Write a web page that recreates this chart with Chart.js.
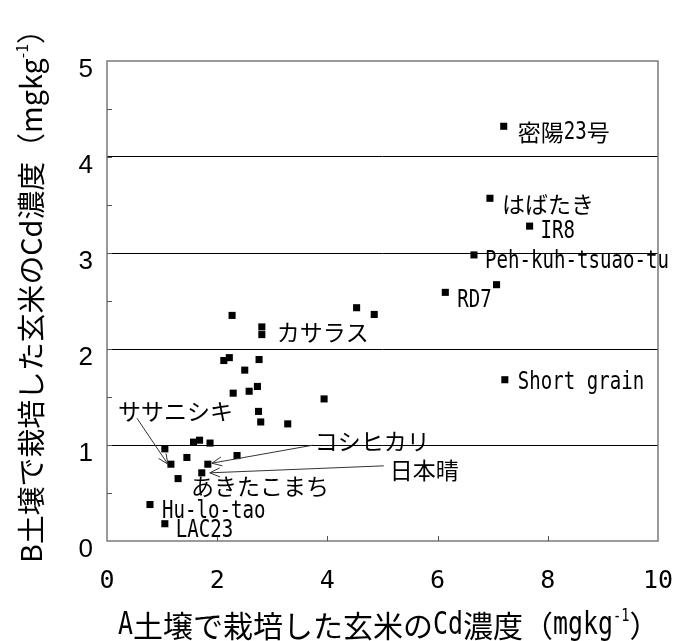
<!DOCTYPE html>
<html>
<head>
<meta charset="utf-8">
<script src="https://cdn.jsdelivr.net/npm/chart.js@4/dist/chart.umd.min.js"></script>
<style>
  html, body { margin: 0; padding: 0; background: #fff; }
  canvas { display: block; }
</style>
</head>
<body>
<canvas id="chart" width="679" height="641"></canvas>
<script>
// Cd concentration of brown rice (mg/kg): grown in soil A (x) vs soil B (y)
const varieties = [
  '密陽23号', 'はばたき', 'IR8', 'Peh-kuh-tsuao-tu', 'RD7', '', 'Short grain',
  '', '', '', '', 'カサラス', '', '', '', '', '', '', '', '', '', '', '',
  '', '', '', '', 'ササニシキ', '', 'コシヒカリ', '', '日本晴', 'あきたこまち',
  'Hu-lo-tao', 'LAC23'
];
const soilA = [
  7.20, 6.95, 7.67, 6.66, 6.14, 7.07, 7.22,
  4.53, 4.85, 2.27, 2.81, 2.81, 2.12, 2.22, 2.76, 2.50, 2.29, 2.58, 2.73, 3.94, 2.75, 2.79, 3.28,
  1.57, 1.68, 1.87, 1.05, 1.16, 1.45, 1.83, 2.36, 1.72, 1.29,
  0.78, 1.05
];
const soilB = [
  4.32, 3.57, 3.28, 2.98, 2.59, 2.67, 1.68,
  2.43, 2.36, 2.35, 2.23, 2.15, 1.88, 1.91, 1.89, 1.78, 1.54, 1.56, 1.61, 1.48, 1.35, 1.24, 1.22,
  1.03, 1.05, 1.02, 0.96, 0.80, 0.87, 0.80, 0.89, 0.71, 0.65,
  0.38, 0.18
];
const xTicks = [0, 2, 4, 6, 8, 10];
const yTicks = [0, 1, 2, 3, 4, 5];
const yMinorStep = 0.5;
const xTitleParts = ['A土壌で栽培した玄米のCd濃度（mgkg', '-1', '）'];
const yTitleParts = ['B土壌で栽培した玄米のCd濃度（mgkg', '-1', '）'];

// Label placement, in pixels from the marker centre; arrow = [fromX, fromY, toX, toY]
const labelLayout = {
  '密陽23号': { dx: 14, dy: 6 },
  'はばたき': { dx: 12, dy: 6 },
  'IR8': { dx: 11, dy: 6 },
  'Peh-kuh-tsuao-tu': { dx: 11, dy: 7 },
  'RD7': { dx: 12, dy: 8 },
  'Short grain': { dx: 13, dy: 3 },
  'カサラス': { dx: 15, dy: -2 },
  'ササニシキ': { dx: -53, dy: -53, arrow: [-34, -46, -3, 0] },
  'コシヒカリ': { dx: 107, dy: -23, arrow: [105, -19, 4, -1] },
  '日本晴': { dx: 188, dy: -3, arrow: [182, -7, 8, 0] },
  'あきたこまち': { dx: 13, dy: 8 },
  'Hu-lo-tao': { dx: 12, dy: 7 },
  'LAC23': { dx: 11, dy: 7 }
};

const CJK_FONT = '"Noto Sans CJK JP"';
const MONO_FONT = '"DejaVu Sans Mono"';

function isWide(ch) { return ch.codePointAt(0) > 0xff; }

// Gothic-style text: full-width glyphs take one em, half-width glyphs half an em
function drawGothic(ctx, text, x, y, size) {
  ctx.textBaseline = 'middle';
  ctx.textAlign = 'left';
  for (const ch of text) {
    if (isWide(ch)) {
      ctx.font = size + 'px ' + CJK_FONT;
      ctx.fillText(ch, x, y);
      x += size;
    } else {
      ctx.save();
      ctx.translate(x, y);
      ctx.scale(0.79, 1);
      ctx.font = (size * 1.05) + 'px ' + MONO_FONT;
      ctx.fillText(ch, 0, 0);
      ctx.restore();
      x += size * 0.5;
    }
  }
  return x;
}

function drawArrow(ctx, x1, y1, x2, y2) {
  const a = Math.atan2(y2 - y1, x2 - x1), len = 11, spread = 0.42;
  ctx.beginPath();
  ctx.moveTo(x1, y1);
  ctx.lineTo(x2, y2);
  ctx.moveTo(x2 - len * Math.cos(a - spread), y2 - len * Math.sin(a - spread));
  ctx.lineTo(x2, y2);
  ctx.lineTo(x2 - len * Math.cos(a + spread), y2 - len * Math.sin(a + spread));
  ctx.stroke();
}

const frameAndTicks = {
  id: 'frameAndTicks',
  beforeDatasetsDraw(chart) {
    const { ctx, chartArea: a, scales: { x, y } } = chart;
    ctx.save();
    ctx.strokeStyle = '#7a7a7a';
    ctx.lineWidth = 1.5;
    ctx.strokeRect(a.left, a.top, a.right - a.left, a.bottom - a.top);
    ctx.lineWidth = 1;
    ctx.strokeStyle = '#555';
    ctx.beginPath();
    for (let v = y.min + yMinorStep; v < y.max; v += yMinorStep) {
      const py = Math.round(y.getPixelForValue(v)) + 0.5;
      ctx.moveTo(a.left, py);
      ctx.lineTo(a.left + 5, py);
    }
    xTicks.slice(1, -1).forEach(v => {
      const px = Math.round(x.getPixelForValue(v)) + 0.5;
      ctx.moveTo(px, a.bottom);
      ctx.lineTo(px, a.bottom - 5);
    });
    ctx.stroke();
    ctx.restore();
  }
};

const annotations = {
  id: 'annotations',
  afterDatasetsDraw(chart) {
    const { ctx, scales: { x, y } } = chart;
    ctx.save();
    ctx.fillStyle = '#000';
    ctx.strokeStyle = '#333';
    ctx.lineWidth = 1;
    varieties.forEach((name, i) => {
      if (!name) return;
      const lay = labelLayout[name];
      const px = x.getPixelForValue(soilA[i]);
      const py = y.getPixelForValue(soilB[i]);
      drawGothic(ctx, name, px + lay.dx, py + lay.dy, 23);
      if (lay.arrow) {
        const [fx, fy, tx, ty] = lay.arrow;
        drawArrow(ctx, px + fx, py + fy, px + tx, py + ty);
      }
    });
    ctx.restore();
  },
  afterDraw(chart) {
    const { ctx } = chart;
    ctx.save();
    ctx.fillStyle = '#000';

    // x-axis title (gothic, with superscript)
    const xs = 30;
    let cx = drawGothic(ctx, xTitleParts[0], 118, 626, xs);
    cx = drawGothic(ctx, xTitleParts[1], cx, 626 - xs * 0.32, xs * 0.55);
    drawGothic(ctx, xTitleParts[2], cx, 626, xs);

    // y-axis title, rotated, fitted between its two ends
    const span = 548;
    const mainW = s => { ctx.font = s + 'px ' + CJK_FONT; return ctx.measureText(yTitleParts[0]).width + ctx.measureText(yTitleParts[2]).width; };
    const supW = s => { ctx.font = (s * 0.55) + 'px ' + CJK_FONT; return ctx.measureText(yTitleParts[1]).width; };
    const ys = 100 * span / (mainW(100) + supW(100));
    ctx.translate(31, 563);
    ctx.rotate(-Math.PI / 2);
    ctx.textBaseline = 'middle';
    ctx.textAlign = 'left';
    ctx.font = ys + 'px ' + CJK_FONT;
    ctx.fillText(yTitleParts[0], 0, 0);
    let ty = ctx.measureText(yTitleParts[0]).width;
    ctx.font = (ys * 0.55) + 'px ' + CJK_FONT;
    ctx.fillText(yTitleParts[1], ty, -ys * 0.32);
    ty += ctx.measureText(yTitleParts[1]).width;
    ctx.font = ys + 'px ' + CJK_FONT;
    ctx.fillText(yTitleParts[2], ty, 0);
    ctx.restore();
  }
};

new Chart(document.getElementById('chart'), {
  type: 'scatter',
  data: {
    datasets: [{
      data: soilA.map((v, i) => ({ x: v, y: soilB[i] })),
      pointStyle: 'rect',
      pointRadius: 5,
      pointHoverRadius: 5,
      backgroundColor: '#000',
      borderWidth: 0
    }]
  },
  options: {
    responsive: false,
    animation: false,
    events: [],
    layout: { padding: { top: 61, right: 21, left: 0, bottom: 0 } },
    plugins: { legend: { display: false }, tooltip: { enabled: false } },
    scales: {
      x: {
        type: 'linear', min: 0, max: 10,
        afterBuildTicks: s => { s.ticks = xTicks.map(v => ({ value: v })); },
        afterFit: s => { s.height = 100; s.paddingLeft = 0; s.paddingRight = 0; },
        grid: { display: false },
        border: { display: false },
        ticks: {
          font: { family: 'DejaVu Sans Mono', size: 25 },
          color: '#000', padding: 17, maxRotation: 0, autoSkip: false
        }
      },
      y: {
        type: 'linear', min: 0, max: 5,
        afterBuildTicks: s => { s.ticks = yTicks.map(v => ({ value: v })); },
        afterFit: s => { s.width = 107; s.paddingTop = 0; s.paddingBottom = 0; },
        grid: {
          color: c => (c.tick && c.tick.value > 0 && c.tick.value < 5) ? '#000' : 'rgba(0,0,0,0)',
          drawTicks: false,
          lineWidth: 1
        },
        border: { display: false },
        ticks: {
          font: { family: 'Liberation Sans', size: 26 },
          color: '#000', padding: 14, labelOffset: 9, autoSkip: false
        }
      }
    }
  },
  plugins: [frameAndTicks, annotations]
});
</script>
</body>
</html>
